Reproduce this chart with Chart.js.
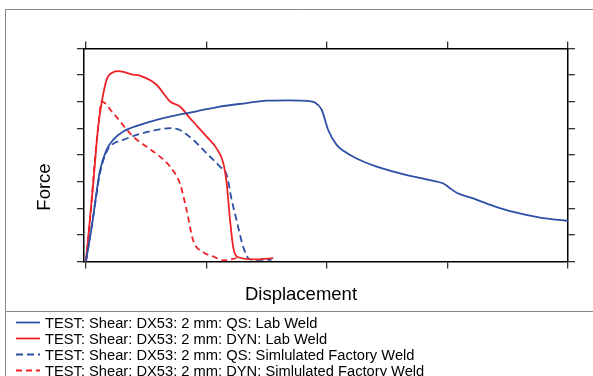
<!DOCTYPE html>
<html>
<head>
<meta charset="utf-8">
<script src="https://cdn.jsdelivr.net/npm/chart.js@4/dist/chart.umd.min.js"></script>
<style>
  html, body { margin: 0; padding: 0; background: #fff; }
  #wrap { width: 593px; height: 376px; }
</style>
</head>
<body>
<div id="wrap"><canvas id="forceChart" width="593" height="376"></canvas></div>
<script>
// values (x: displacement, y: force, no units shown)
const seriesNames = [
    'TEST: Shear: DX53: 2 mm: QS: Lab Weld',
    'TEST: Shear: DX53: 2 mm: DYN: Lab Weld',
    'TEST: Shear: DX53: 2 mm: QS: Simlulated Factory Weld',
    'TEST: Shear: DX53: 2 mm: DYN: Simlulated Factory Weld'
];

const qsLabX = [0, 0.24, 0.58, 0.86, 1.13, 1.55, 2.24, 2.93, 3.62, 4.59, 5.56, 6.67, 7.5, 8.46, 9.2, 9.5, 9.78, 10.05, 10.4, 10.68, 11.23, 12.06, 13.03, 14.14, 14.83, 15.04, 15.38, 16.07, 16.9, 17.73, 18.84, 20.0];
const qsLabY = [0, 1.3, 3.4, 4.2, 4.57, 4.88, 5.13, 5.32, 5.47, 5.64, 5.82, 5.95, 6.04, 6.05, 6.03, 5.97, 5.70, 4.94, 4.38, 4.16, 3.87, 3.56, 3.31, 3.08, 2.93, 2.80, 2.58, 2.37, 2.09, 1.86, 1.65, 1.52];

const dynLabX = [0, 0.3, 0.51, 0.65, 0.86, 1.13, 1.34, 1.96, 2.24, 2.93, 3.49, 3.9, 4.32, 5.01, 5.42, 5.7, 5.84, 5.98, 6.11, 6.32, 7.08, 7.77];
const dynLabY = [0, 2.9, 5.07, 5.95, 6.83, 7.11, 7.15, 7.02, 6.98, 6.64, 6.01, 5.82, 5.38, 4.69, 4.25, 3.69, 2.93, 1.55, 0.54, 0.16, 0.08, 0.13];

const qsSimX = [0, 0.3, 0.58, 0.86, 1.07, 1.55, 2.24, 2.93, 3.49, 3.9, 4.45, 5.01, 5.56, 5.84, 6.05, 6.25, 6.53, 6.8, 7.5, 7.7];
const qsSimY = [0, 1.67, 3.31, 4.13, 4.38, 4.57, 4.79, 4.94, 5.01, 4.94, 4.57, 4.06, 3.56, 3.25, 2.30, 1.55, 0.54, 0.08, 0.06, 0.06];

const dynSimX = [0, 0.17, 0.37, 0.51, 0.65, 1.13, 1.96, 2.52, 3.07, 3.49, 3.9, 4.18, 4.45, 4.87, 5.28, 5.7, 6.25];
const dynSimY = [0, 1.55, 3.81, 5.07, 6.01, 5.57, 4.69, 4.31, 3.94, 3.56, 2.93, 1.92, 0.79, 0.35, 0.19, 0.04, 0.13];

const xTicks = [0, 5, 10, 15, 20];
const yTicks = [0, 1, 2, 3, 4, 5, 6, 7, 8];

const BLUE = '#2d4fa5';
const RED = '#ee2228';
const FONT = "'Liberation Sans', Arial, sans-serif";

function toPoints(xs, ys) {
    return xs.map((x, i) => ({ x: x, y: ys[i] }));
}

function makeSet(i, xs, ys, color, dash) {
    return {
        label: seriesNames[i],
        data: toPoints(xs, ys),
        borderColor: color,
        backgroundColor: color,
        borderWidth: 1.8,
        borderDash: dash,
        pointRadius: 0,
        cubicInterpolationMode: 'monotone',
        fill: false
    };
}

// frame, separator line, axis titles and the stacked legend
const decorations = {
    id: 'decorations',
    afterDraw(chart) {
        const ctx = chart.ctx;
        ctx.save();

        ctx.strokeStyle = '#8a8a8a';
        ctx.lineWidth = 1;
        ctx.beginPath();
        ctx.moveTo(5.5, 376);
        ctx.lineTo(5.5, 9.5);
        ctx.lineTo(593, 9.5);
        ctx.moveTo(5.5, 311.5);
        ctx.lineTo(593, 311.5);
        ctx.stroke();

        ctx.fillStyle = '#000';
        ctx.font = '18.5px ' + FONT;
        ctx.textAlign = 'center';
        ctx.textBaseline = 'middle';
        ctx.fillText('Displacement', 301, 295);

        ctx.save();
        ctx.translate(44.5, 187);
        ctx.rotate(-Math.PI / 2);
        ctx.fillText('Force', 0, 0);
        ctx.restore();

        ctx.font = '14.7px ' + FONT;
        ctx.textAlign = 'left';
        chart.data.datasets.forEach((ds, i) => {
            const y = 322.5 + i * 16;
            ctx.strokeStyle = ds.borderColor;
            ctx.lineWidth = 1.8;
            ctx.setLineDash(ds.borderDash || []);
            ctx.beginPath();
            ctx.moveTo(16, y);
            ctx.lineTo(40, y);
            ctx.stroke();
            ctx.setLineDash([]);
            ctx.fillStyle = '#000';
            ctx.fillText(ds.label, 45, y + 1);
        });

        ctx.restore();
    }
};

const axisLook = {
    display: true,
    drawOnChartArea: false,
    drawTicks: true,
    tickLength: 7,
    color: '#333',
    lineWidth: 1.3
};

function axis(position, min, max, ticks) {
    return {
        type: 'linear',
        position: position,
        min: min,
        max: max,
        afterBuildTicks: s => { s.ticks = ticks.map(v => ({ value: v })); },
        ticks: { display: false },
        grid: axisLook,
        border: { display: true, color: '#000', width: 1.5 }
    };
}

const ctx = document.getElementById('forceChart');
new Chart(ctx, {
    type: 'line',
    data: {
        datasets: [
            makeSet(0, qsLabX, qsLabY, BLUE, []),
            makeSet(1, dynLabX, dynLabY, RED, []),
            makeSet(2, qsSimX, qsSimY, BLUE, [7, 4]),
            makeSet(3, dynSimX, dynSimY, RED, [6, 4])
        ]
    },
    options: {
        responsive: false,
        animation: false,
        layout: {
            padding: { left: 77, right: 18, top: 41.5, bottom: 107.5 }
        },
        plugins: {
            legend: { display: false },
            tooltip: { enabled: false }
        },
        scales: {
            x: axis('bottom', -0.08, 20, xTicks),
            x2: axis('top', -0.08, 20, xTicks),
            y: axis('left', 0, 8, yTicks),
            y2: axis('right', 0, 8, yTicks)
        }
    },
    plugins: [decorations]
});
</script>
</body>
</html>
